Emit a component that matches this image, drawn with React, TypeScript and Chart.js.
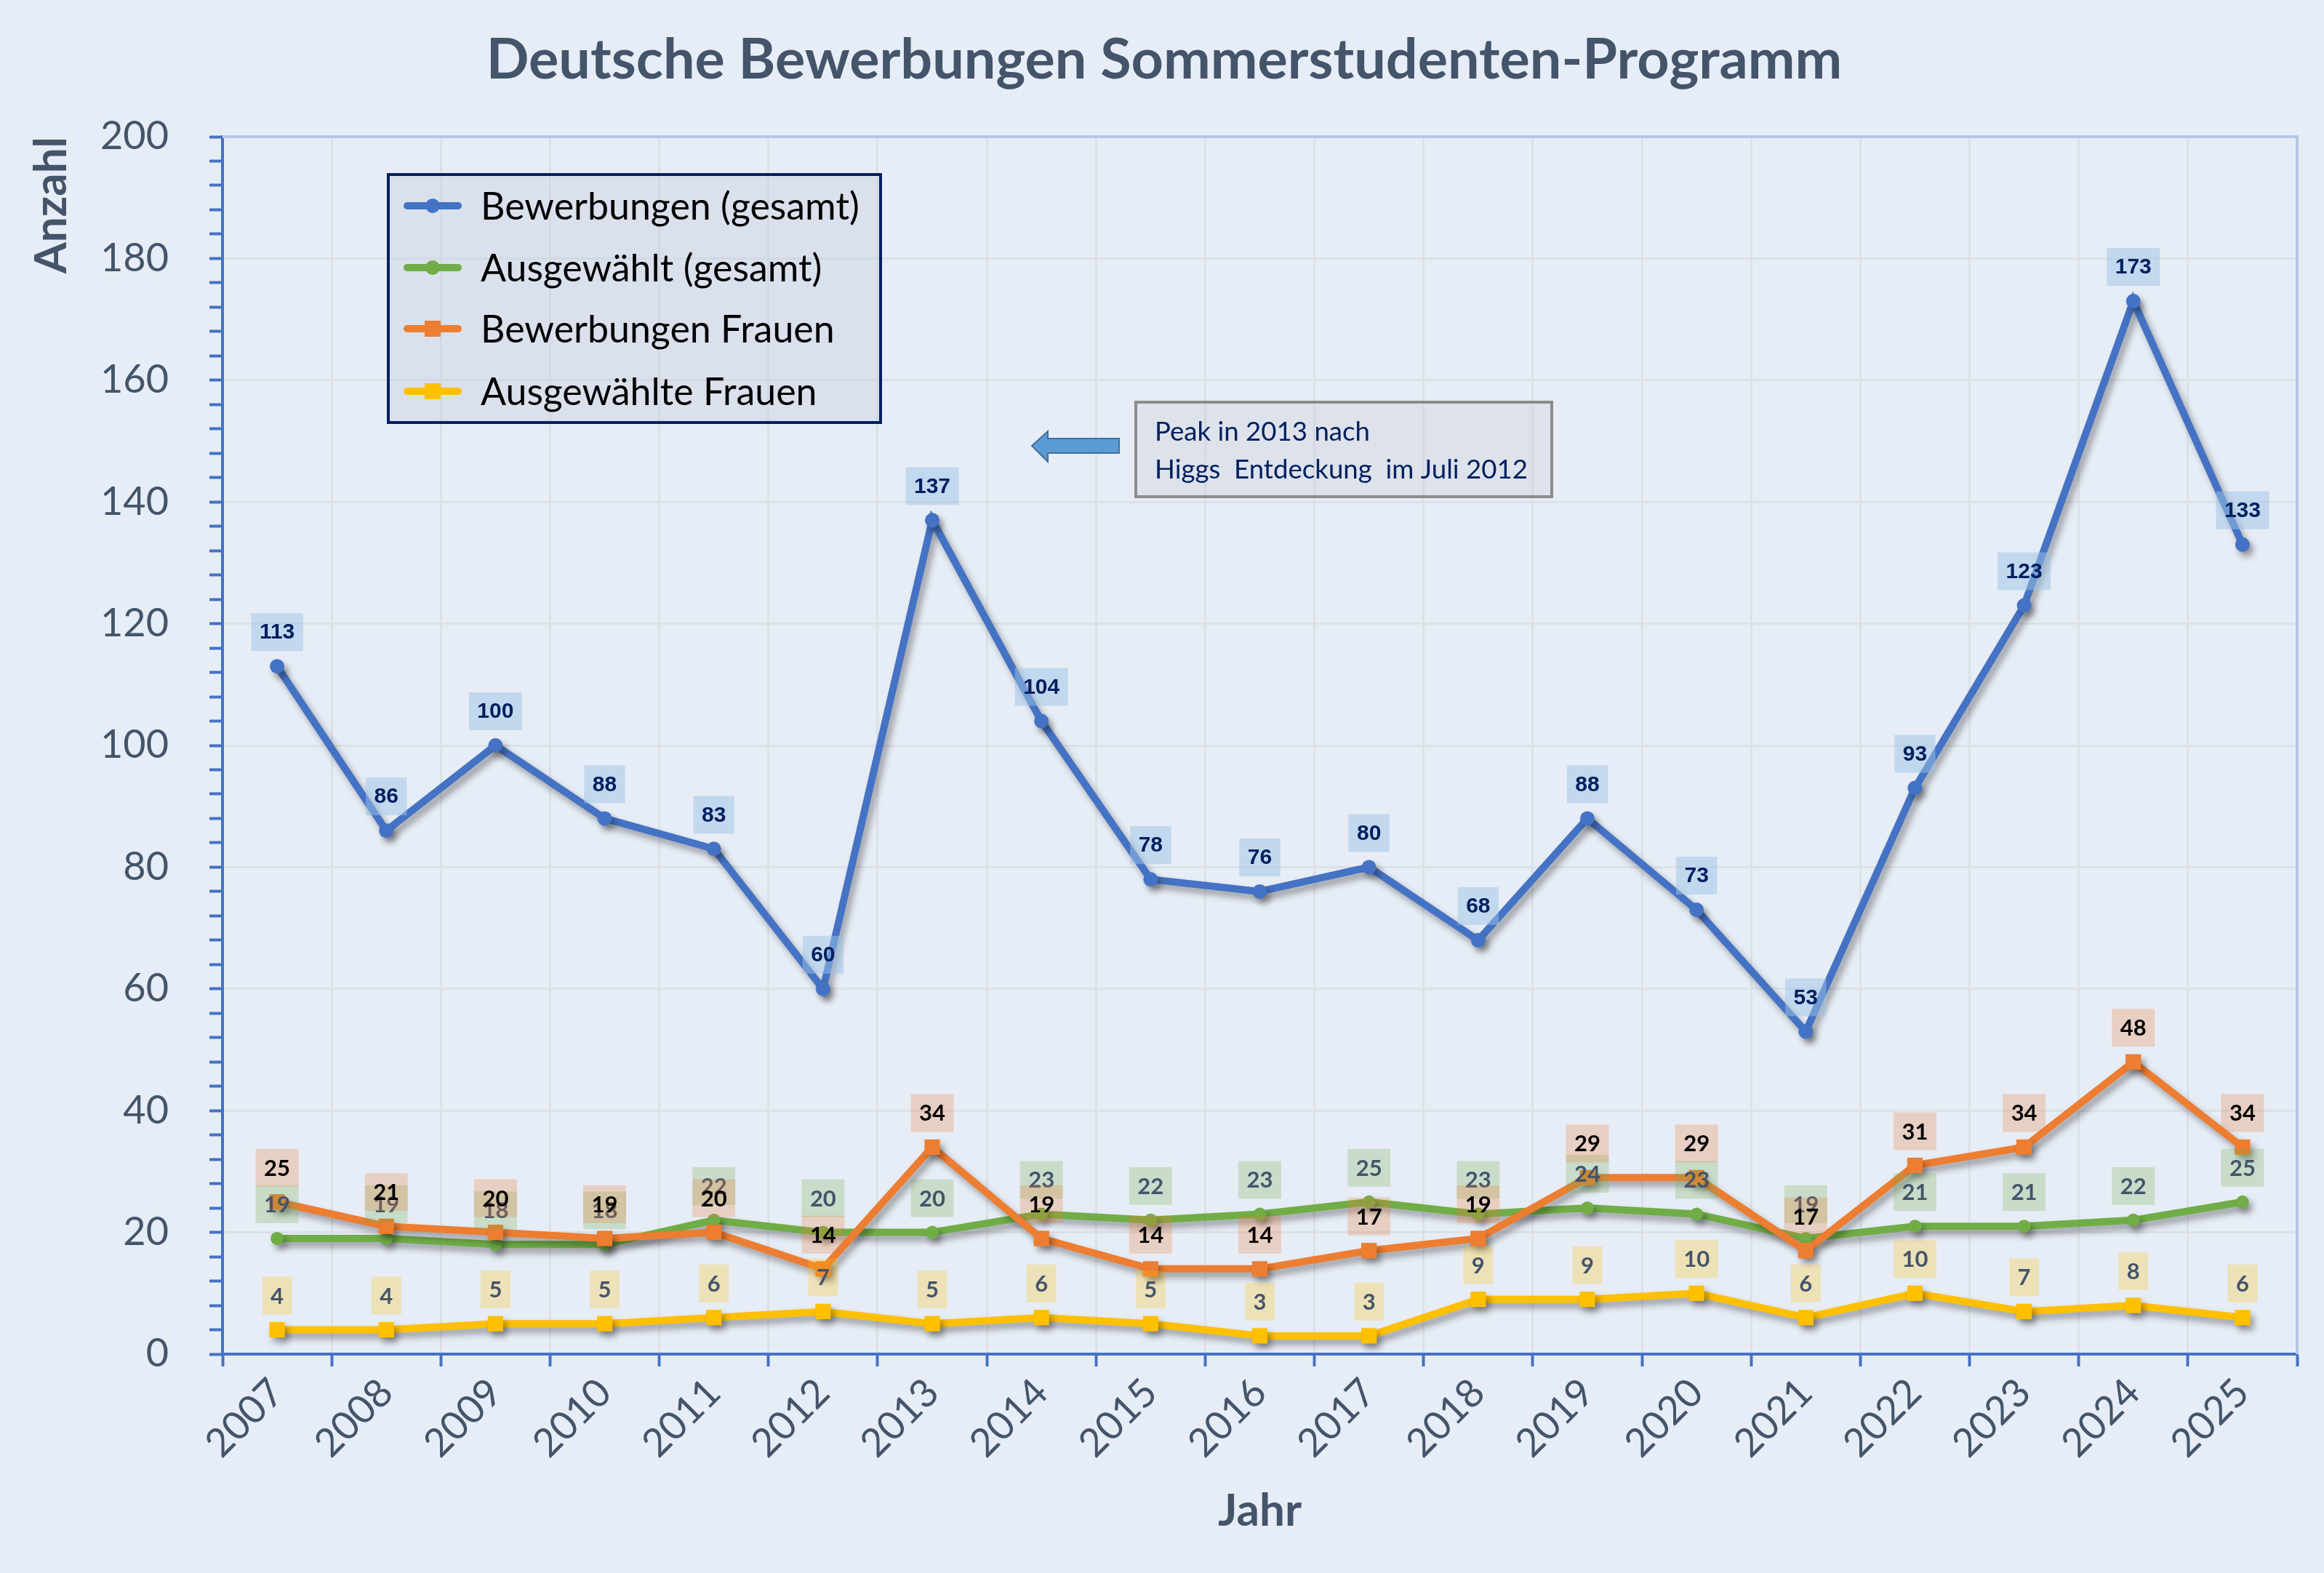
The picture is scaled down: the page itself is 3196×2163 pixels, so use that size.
import React, { useEffect, useRef } from 'react';
import { Chart, registerables } from 'chart.js';

Chart.register(...registerables);

// ---------- data ----------
const years = ['2007', '2008', '2009', '2010', '2011', '2012', '2013', '2014', '2015', '2016', '2017', '2018', '2019', '2020', '2021', '2022', '2023', '2024', '2025'];
const bewerbungenGesamt = [113, 86, 100, 88, 83, 60, 137, 104, 78, 76, 80, 68, 88, 73, 53, 93, 123, 173, 133];
const ausgewaehltGesamt = [19, 19, 18, 18, 22, 20, 20, 23, 22, 23, 25, 23, 24, 23, 19, 21, 21, 22, 25];
const bewerbungenFrauen = [25, 21, 20, 19, 20, 14, 34, 19, 14, 14, 17, 19, 29, 29, 17, 31, 34, 48, 34];
const ausgewaehlteFrauen = [4, 4, 5, 5, 6, 7, 5, 6, 5, 3, 3, 9, 9, 10, 6, 10, 7, 8, 6];
const seriesLabels = ['Bewerbungen (gesamt)', 'Ausgewählt (gesamt)', 'Bewerbungen Frauen', 'Ausgewählte Frauen'];
const yMin = 0;
const yMax = 200;
const yMajorStep = 20;
const yMinorStep = 4;
const titleText = 'Deutsche Bewerbungen Sommerstudenten-Programm';
const xTitle = 'Jahr';
const yTitle = 'Anzahl';
const noteLines = ['Peak in 2013 nach', 'Higgs  Entdeckung  im Juli 2012'];

// ---------- style ----------
const BG = '#E7EDF6';
const SLATE = '#44546A';
const AXIS_BLUE = '#4472C4';
const GRID = '#DCE1E8';
const W = 3196;
const H = 2163;

const seriesStyle = [
  { color: '#4472C4', point: 'circle', radius: 10, labelFont: 'bold 30px "Liberation Sans"', labelColor: '#002060', labelBg: 'rgba(157,195,230,0.5)', order: 4 },
  { color: '#70AD47', point: 'circle', radius: 9, labelFont: 'bold 31px Lato', labelColor: SLATE, labelBg: 'rgba(112,173,71,0.25)', order: 3 },
  { color: '#ED7D31', point: 'rect', radius: 15, labelFont: 'bold 31px Lato', labelColor: '#000000', labelBg: 'rgba(237,125,49,0.26)', order: 2 },
  { color: '#FFC000', point: 'rect', radius: 15, labelFont: 'bold 31px Lato', labelColor: SLATE, labelBg: 'rgba(255,192,0,0.25)', order: 1 },
];

function fitSize(ctx: CanvasRenderingContext2D, text: string, weight: string, family: string, target: number) {
  ctx.font = `${weight} 100px ${family}`;
  const w = ctx.measureText(text).width;
  return (100 * target) / w;
}

const shadowPlugin = {
  id: 'lineShadow',
  beforeDatasetDraw(chart: any) {
    const ctx = chart.ctx;
    ctx.save();
    ctx.shadowColor = 'rgba(0,0,0,0.35)';
    ctx.shadowBlur = 10;
    ctx.shadowOffsetX = 5;
    ctx.shadowOffsetY = 7;
  },
  afterDatasetDraw(chart: any) {
    chart.ctx.restore();
  },
};

const frameAndLabelsPlugin = {
  id: 'frameAndLabels',
  beforeDatasetsDraw(chart: any) {
    const { ctx, chartArea } = chart;
    ctx.save();
    ctx.strokeStyle = '#B4C7E7';
    ctx.lineWidth = 4;
    ctx.beginPath();
    ctx.moveTo(chartArea.left, chartArea.top);
    ctx.lineTo(chartArea.right, chartArea.top);
    ctx.lineTo(chartArea.right, chartArea.bottom);
    ctx.stroke();
    ctx.restore();
  },
  afterDatasetsDraw(chart: any) {
    const ctx = chart.ctx;
    chart.data.datasets.forEach((ds: any, i: number) => {
      const meta = chart.getDatasetMeta(i);
      const st = seriesStyle[i];
      ctx.save();
      ctx.font = st.labelFont;
      ctx.textAlign = 'center';
      ctx.textBaseline = 'middle';
      meta.data.forEach((el: any, j: number) => {
        const text = String(ds.data[j]);
        const tw = ctx.measureText(text).width;
        const bw = tw + 23;
        const bh = 52;
        const cx = el.x;
        const cy = el.y - 47;
        ctx.fillStyle = st.labelBg;
        ctx.fillRect(cx - bw / 2, cy - bh / 2, bw, bh);
        ctx.fillStyle = st.labelColor;
        ctx.fillText(text, cx, cy + 1);
      });
      ctx.restore();
    });
  },
  afterDraw(chart: any) {
    const ctx: CanvasRenderingContext2D = chart.ctx;
    ctx.save();
    // title
    const ts = fitSize(ctx, titleText, 'bold', 'Lato', 1865);
    ctx.font = `bold ${ts}px Lato`;
    ctx.fillStyle = SLATE;
    ctx.textAlign = 'center';
    ctx.textBaseline = 'alphabetic';
    ctx.fillText(titleText, 1601, 108);

    // legend
    const lx0 = 534, ly0 = 240, lx1 = 1211, ly1 = 581;
    ctx.fillStyle = 'rgba(190,200,215,0.3)';
    ctx.fillRect(lx0, ly0, lx1 - lx0, ly1 - ly0);
    ctx.strokeStyle = '#002060';
    ctx.lineWidth = 4;
    ctx.strokeRect(lx0, ly0, lx1 - lx0, ly1 - ly0);
    const rows = [283, 368, 452, 538];
    const ls = fitSize(ctx, seriesLabels[0], 'normal', 'Lato', 521);
    chart.data.datasets.forEach((ds: any, i: number) => {
      const st = seriesStyle[i];
      const y = rows[i];
      ctx.strokeStyle = st.color;
      ctx.lineWidth = 10;
      ctx.lineCap = 'round';
      ctx.beginPath();
      ctx.moveTo(560, y);
      ctx.lineTo(630, y);
      ctx.stroke();
      ctx.fillStyle = st.color;
      if (st.point === 'rect') {
        ctx.fillRect(595 - 11, y - 11, 22, 22);
      } else {
        ctx.beginPath();
        ctx.arc(595, y, 10, 0, Math.PI * 2);
        ctx.fill();
      }
      ctx.font = `normal ${ls}px Lato`;
      ctx.fillStyle = '#000000';
      ctx.textAlign = 'left';
      ctx.textBaseline = 'alphabetic';
      ctx.fillText(ds.label, 661, y + 0.36 * ls);
    });

    // annotation box
    const ax0 = 1562, ay0 = 553, ax1 = 2134, ay1 = 683;
    ctx.fillStyle = 'rgba(190,195,205,0.25)';
    ctx.fillRect(ax0, ay0, ax1 - ax0, ay1 - ay0);
    ctx.strokeStyle = '#8C8C8C';
    ctx.lineWidth = 4;
    ctx.strokeRect(ax0, ay0, ax1 - ax0, ay1 - ay0);
    const ns = fitSize(ctx, noteLines[1], 'normal', 'Lato', 513);
    ctx.font = `normal ${ns}px Lato`;
    ctx.fillStyle = '#002060';
    ctx.textAlign = 'left';
    ctx.fillText(noteLines[0], 1588, 606);
    ctx.fillText(noteLines[1], 1588, 658);

    // arrow
    ctx.beginPath();
    ctx.moveTo(1419, 613);
    ctx.lineTo(1441, 593);
    ctx.lineTo(1441, 603);
    ctx.lineTo(1539, 603);
    ctx.lineTo(1539, 623);
    ctx.lineTo(1441, 623);
    ctx.lineTo(1441, 635);
    ctx.closePath();
    ctx.fillStyle = '#5B9BD5';
    ctx.fill();
    ctx.strokeStyle = '#41719C';
    ctx.lineWidth = 2;
    ctx.lineJoin = 'miter';
    ctx.stroke();
    ctx.restore();
  },
};

export default function App() {
  const ref = useRef<HTMLCanvasElement>(null);
  useEffect(() => {
    let chart: Chart | null = null;
    let cancelled = false;
    document.body.style.margin = '0';
    document.body.style.background = BG;
    const loads = ['54px Lato', 'bold 54px Lato', 'bold 30px "Liberation Sans"'].map((f) => document.fonts.load(f));
    Promise.all(loads)
      .catch(() => null)
      .then(() => {
        if (cancelled || !ref.current) return;
        Chart.defaults.font.family = 'Lato';
        const seriesData = [bewerbungenGesamt, ausgewaehltGesamt, bewerbungenFrauen, ausgewaehlteFrauen];
        chart = new Chart(ref.current, {
          type: 'line',
          data: {
            labels: years,
            datasets: seriesData.map((d, i) => ({
              label: seriesLabels[i],
              data: d,
              borderColor: seriesStyle[i].color,
              backgroundColor: seriesStyle[i].color,
              borderWidth: 10,
              pointStyle: seriesStyle[i].point as any,
              pointRadius: seriesStyle[i].radius,
              pointBorderWidth: 0,
              pointBackgroundColor: seriesStyle[i].color,
              tension: 0,
              fill: false,
              order: seriesStyle[i].order,
              clip: false as any,
            })),
          },
          options: {
            responsive: false,
            animation: false,
            devicePixelRatio: 1,
            layout: { padding: { top: 188, right: 37, left: 0, bottom: 0 } },
            plugins: {
              legend: { display: false },
              title: { display: false },
              tooltip: { enabled: false },
            },
            scales: {
              x: {
                type: 'category',
                offset: true,
                grid: { display: true, offset: true, color: GRID, lineWidth: 3, tickColor: AXIS_BLUE, tickWidth: 4, tickLength: 17 },
                border: { display: true, color: AXIS_BLUE, width: 4 },
                ticks: { autoSkip: false, maxRotation: 45, minRotation: 45, padding: 4, color: SLATE, font: { family: 'Lato', size: 54 } },
                title: { display: true, text: xTitle, color: SLATE, font: { family: 'Lato', size: 62, weight: 'bold' }, padding: { top: 0, bottom: 48 } },
                afterFit: (s: any) => {
                  s.height = H - 1862;
                },
              },
              y: {
                min: yMin,
                max: yMax,
                ticks: {
                  stepSize: yMinorStep,
                  autoSkip: false,
                  color: SLATE,
                  padding: 56,
                  font: { family: 'Lato', size: 54 },
                  callback: (v: any) => (Number(v) % yMajorStep === 0 ? String(v) : ''),
                },
                grid: {
                  color: (c: any) => (c.tick && c.tick.value % yMajorStep === 0 ? GRID : 'rgba(0,0,0,0)'),
                  lineWidth: 3,
                  tickColor: AXIS_BLUE,
                  tickWidth: 4,
                  tickLength: 18,
                },
                border: { display: true, color: AXIS_BLUE, width: 4 },
                title: { display: true, text: yTitle, align: 'end', color: SLATE, font: { family: 'Lato', size: 62, weight: 'bold' }, padding: { top: 34, bottom: 0 } },
                afterFit: (s: any) => {
                  s.width = 306;
                },
              },
            },
          } as any,
          plugins: [shadowPlugin, frameAndLabelsPlugin],
        });
      });
    return () => {
      cancelled = true;
      if (chart) chart.destroy();
    };
  }, []);
  return (
    <div style={{ width: W, height: H, background: BG }}>
      <canvas ref={ref} width={W} height={H} style={{ display: 'block', width: W, height: H }} />
    </div>
  );
}
